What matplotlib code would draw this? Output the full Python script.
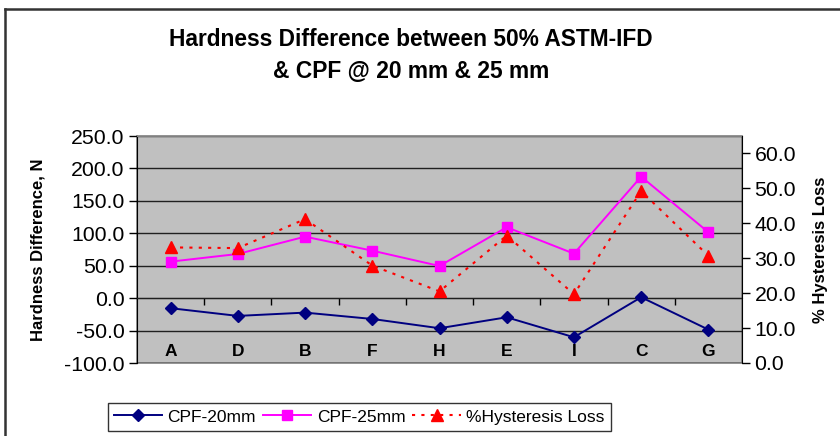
import numpy as np
import matplotlib
matplotlib.use("Agg")
import matplotlib.pyplot as plt
from matplotlib.lines import Line2D

plt.rcParams['font.family'] = ['Liberation Sans', 'DejaVu Sans']

# data
categories = ['A', 'D', 'B', 'F', 'H', 'E', 'I', 'C', 'G']
cpf_20mm = [-15.5, -27.4, -22.3, -32.1, -46.4, -29.5, -60.3, 1.4, -48.5]
cpf_25mm = [56.3, 68.1, 94.8, 73.2, 49.6, 109.3, 68.6, 187.3, 101.6]
hysteresis_loss = [33.1, 32.9, 41.2, 27.9, 20.5, 36.5, 19.7, 49.2, 30.7]

left_ticks = [-100, -50, 0, 50, 100, 150, 200, 250]
right_ticks = [0, 10, 20, 30, 40, 50, 60]

fig = plt.figure(figsize=(8.4, 4.36), dpi=100)
ax = fig.add_axes([137 / 840, 1 - 363 / 436, 605 / 840, 227 / 436])
ax2 = ax.twinx()

x = np.arange(len(categories))

# plot area
ax.set_facecolor('#C0C0C0')
ax.patch.set_edgecolor('#808080')
ax.patch.set_linewidth(1.2)
ax.set_xlim(-0.5, len(categories) - 0.5)
ax.set_ylim(-100, 250)
ax2.set_ylim(0, 65)

ax.set_yticks(left_ticks)
ax.set_yticklabels(['{:.1f}'.format(v) for v in left_ticks], fontsize=15.3)
ax.yaxis.grid(True, color='#202020', linewidth=1)
ax.set_axisbelow(True)

ax2.set_yticks(right_ticks)
ax2.set_yticklabels(['{:.1f}'.format(v) for v in right_ticks], fontsize=15.3)

# x axis crosses at zero, labels sit low in the plot area
ax.spines['bottom'].set_position(('data', 0))
ax.spines['bottom'].set_color('#202020')
ax.spines['top'].set_color('#808080')
ax.spines['right'].set_visible(False)
ax.spines['left'].set_color('black')
for pos in ['top', 'bottom', 'left']:
    ax2.spines[pos].set_visible(False)
ax2.spines['right'].set_color('black')

ax.set_xticks(x)
ax.set_xticklabels(categories, fontsize=12.5, fontweight='bold')
ax.set_xticks(x[:-1] + 0.5, minor=True)
ax.tick_params(axis='x', which='major', length=0, pad=33)
ax.tick_params(axis='x', which='minor', length=5, width=1, direction='out')
ax.tick_params(axis='y', length=6, width=1, direction='out', pad=3)
ax2.tick_params(axis='y', length=6, width=1, direction='out', pad=3)

# series
ax.plot(x, cpf_20mm, color='#000080', marker='D', markersize=6, linewidth=1.4,
        label='CPF-20mm', zorder=3)
ax.plot(x, cpf_25mm, color='#FF00FF', marker='s', markersize=7, linewidth=1.4,
        label='CPF-25mm', zorder=3)
ax2.plot(x, hysteresis_loss, color='#FF0000', marker='^', markersize=8, linewidth=1.5,
         linestyle=(0, (1.5, 3)), label='%Hysteresis Loss', zorder=3)

# axis labels
ax.set_ylabel('Hardness Difference, N', fontsize=12, fontweight='bold', labelpad=13)
ax2.set_ylabel('% Hysteresis Loss', fontsize=12, fontweight='bold', labelpad=12)

# title
fig.text(411 / 840, 1 - 56 / 436,
         'Hardness Difference between 50% ASTM-IFD\n& CPF @ 20 mm & 25 mm',
         ha='center', va='center', fontsize=16.4, fontweight='bold', linespacing=1.5)

# legend
h1, l1 = ax.get_legend_handles_labels()
h2, l2 = ax2.get_legend_handles_labels()
leg = fig.legend(h1 + h2, l1 + l2, loc='center', ncol=3,
                 bbox_to_anchor=(359 / 840, 1 - 417 / 436),
                 fontsize=12.5, frameon=True, fancybox=False, edgecolor='black',
                 handlelength=2.8, columnspacing=0.4, handletextpad=0.3,
                 borderpad=0.35, borderaxespad=0)
leg.get_frame().set_linewidth(1)

# chart frame (top and left edges)
fig.add_artist(Line2D([5 / 840, 1.0], [1 - 9 / 436, 1 - 9 / 436],
                      transform=fig.transFigure, color='#333333', linewidth=1.8))
fig.add_artist(Line2D([5 / 840, 5 / 840], [0.0, 1 - 9 / 436],
                      transform=fig.transFigure, color='#333333', linewidth=1.8))

fig.savefig('out.png', dpi=100)
